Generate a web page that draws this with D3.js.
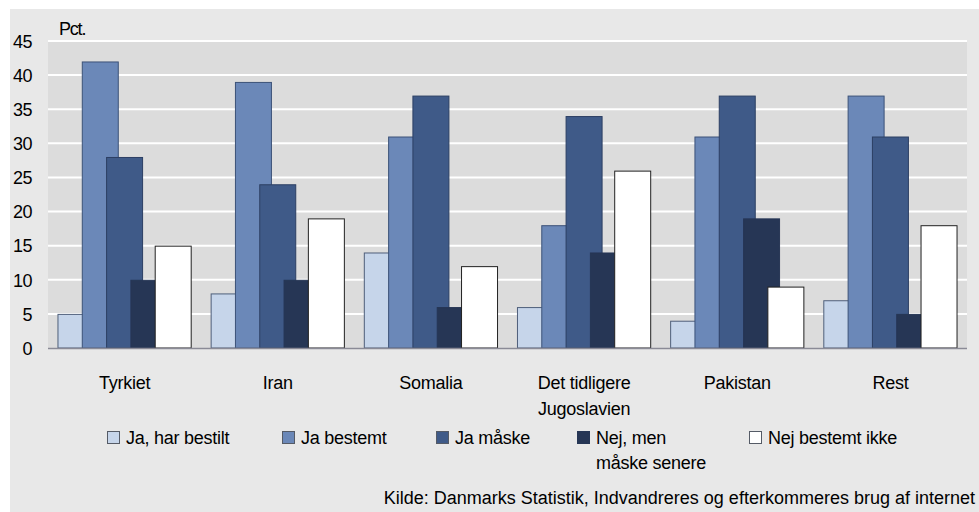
<!DOCTYPE html>
<html><head><meta charset="utf-8">
<script src="https://cdn.jsdelivr.net/npm/d3@7"></script>
<style>
body{margin:0;background:#fff;}
text{font-family:"Liberation Sans",Arial,sans-serif;fill:#000;}
</style></head>
<body>
<svg id="c" width="979" height="512"></svg>
<script>
const categories = ["Tyrkiet","Iran","Somalia","Det tidligere|Jugoslavien","Pakistan","Rest"];
const seriesNames = ["Ja, har bestilt","Ja bestemt","Ja måske","Nej, men|måske senere","Nej bestemt ikke"];
const jaHarBestilt = [5,8,14,6,4,7];
const jaBestemt = [42,39,31,18,31,37];
const jaMaaske = [28,24,37,34,37,31];
const nejMenMaaske = [10,10,6,14,19,5];
const nejBestemtIkke = [15,19,12,26,9,18];
const yTicks = [0,5,10,15,20,25,30,35,40,45];
const series = [jaHarBestilt,jaBestemt,jaMaaske,nejMenMaaske,nejBestemtIkke];

const fills = ["#c6d5ea","#6b88b8","#3f5a88","#263655","#ffffff"];
const strokes = ["#4f5f7a","#3c5278","#2c3f63","#263655","#222222"];

const svg = d3.select("#c");
svg.append("rect").attr("x",10).attr("y",9).attr("width",969).attr("height",503).attr("fill","#e8e8e8");

const L=48,R=967,T=41,B=348;
const x0 = d3.scaleBand().domain(d3.range(categories.length)).range([L,R]);
const y = d3.scaleLinear().domain([0,45]).range([B,T]);
svg.append("rect").attr("x",L).attr("y",T).attr("width",R-L).attr("height",B-T).attr("fill","#dcdcdc");

svg.append("g").selectAll("line").data(yTicks.filter(d=>d>0)).join("line")
  .attr("x1",L).attr("x2",R).attr("y1",d=>y(d)).attr("y2",d=>y(d))
  .attr("stroke","#ffffff").attr("stroke-width",2);

const fs = 18, ls = "-0.25px";
const yAxis = d3.axisLeft(y).tickValues(yTicks).tickSize(0).tickPadding(0);
const ga = svg.append("g").attr("transform",`translate(${32},0)`).call(yAxis);
ga.select(".domain").remove();
ga.selectAll("text").attr("font-size",fs).attr("letter-spacing","-0.5px").attr("fill","#000").attr("font-family","Liberation Sans, Arial, sans-serif").attr("dy","0.35em");

svg.append("text").attr("x",59).attr("y",35).attr("font-size",fs).attr("letter-spacing","-1.2px").text("Pct.");

const bw = x0.bandwidth();
const step = bw*0.1587, barW = bw*0.2415;
const groupW = step*4+barW;
series.forEach((vals,si)=>{
  svg.append("g").selectAll("rect").data(vals).join("rect")
    .attr("x",(d,i)=>x0(i)+(bw-groupW)/2+si*step+0.5)
    .attr("y",d=>y(d)+0.5)
    .attr("width",barW-1)
    .attr("height",d=>y(0)-y(d)-0.5)
    .attr("fill",fills[si]).attr("stroke",strokes[si]).attr("stroke-width",1);
});
svg.append("line").attr("x1",L).attr("x2",R).attr("y1",B+0.5).attr("y2",B+0.5).attr("stroke","#8a8a96").attr("stroke-width",1.5);

categories.forEach((c,i)=>{
  const t = svg.append("text").attr("x",x0(i)+bw/2).attr("y",389).attr("text-anchor","middle").attr("font-size",fs).attr("letter-spacing",ls);
  c.split("|").forEach((s,k)=>t.append("tspan").attr("x",x0(i)+bw/2).attr("dy",k?26:0).text(s));
});

const legX = [107,282,436,577,749];
seriesNames.forEach((n,i)=>{
  svg.append("rect").attr("x",legX[i]+0.5).attr("y",431.5).attr("width",12).attr("height",12)
    .attr("fill",fills[i]).attr("stroke",i==3?fills[3]:"#555b66").attr("stroke-width",1);
  const t = svg.append("text").attr("x",legX[i]+19).attr("y",444).attr("font-size",fs).attr("letter-spacing",ls);
  n.split("|").forEach((s,k)=>t.append("tspan").attr("x",legX[i]+19).attr("dy",k?25:0).text(s));
});

svg.append("text").attr("x",975).attr("y",504).attr("text-anchor","end").attr("font-size",fs).attr("letter-spacing","0px")
  .text("Kilde: Danmarks Statistik, Indvandreres og efterkommeres brug af internet");
</script>
</body></html>
